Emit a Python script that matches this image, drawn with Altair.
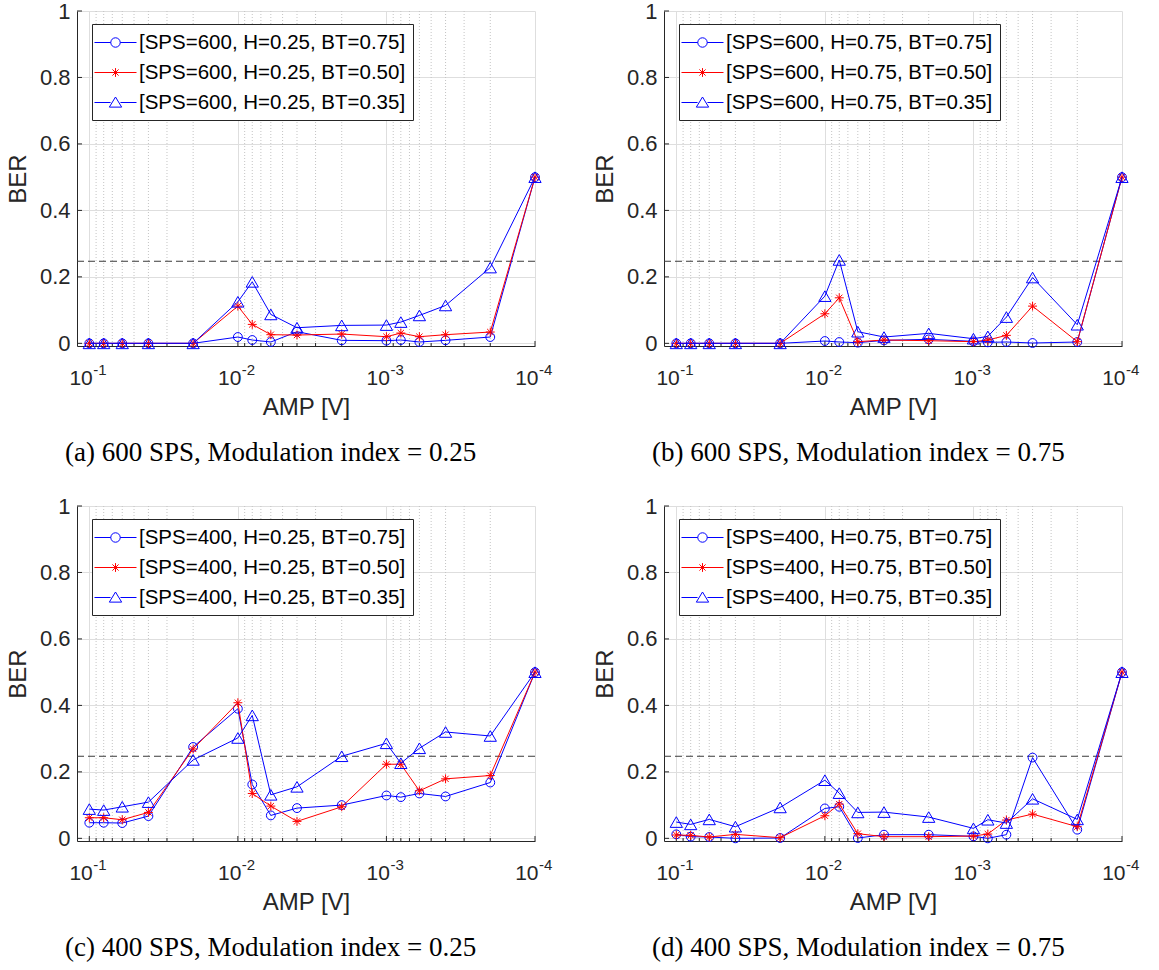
import altair as alt
import pandas as pd

# ---------------- data ----------------
amp = [0.1, 0.08, 0.06, 0.04, 0.02, 0.01, 0.008, 0.006, 0.004, 0.002,
       0.001, 0.0008, 0.0006, 0.0004, 0.0002, 0.0001]

a_bt075 = [0, 0, 0, 0, 0, 0.019, 0.010, 0.004, 0.035, 0.009, 0.008, 0.010, 0.004, 0.009, 0.019, 0.5]
a_bt050 = [0, 0, 0, 0, 0, 0.112, 0.057, 0.026, 0.025, 0.028, 0.020, 0.031, 0.020, 0.026, 0.034, 0.5]
a_bt035 = [0, 0, 0, 0, 0, 0.125, 0.185, 0.087, 0.047, 0.054, 0.055, 0.064, 0.084, 0.114, 0.228, 0.5]

b_bt075 = [0, 0, 0, 0, 0, 0.007, 0.004, 0.002, 0.009, 0.012, 0.006, 0.003, 0.004, 0.001, 0.004, 0.5]
b_bt050 = [0, 0, 0, 0, 0, 0.089, 0.137, 0.005, 0.010, 0.008, 0.005, 0.010, 0.024, 0.112, 0.005, 0.5]
b_bt035 = [0, 0, 0, 0, 0, 0.142, 0.251, 0.035, 0.019, 0.030, 0.014, 0.021, 0.079, 0.198, 0.056, 0.5]

c_bt075 = [0.047, 0.047, 0.046, 0.067, 0.275, 0.390, 0.162, 0.069, 0.091, 0.100, 0.129, 0.124, 0.135, 0.126, 0.168, 0.5]
c_bt050 = [0.062, 0.062, 0.056, 0.078, 0.269, 0.408, 0.135, 0.097, 0.051, 0.095, 0.223, 0.223, 0.143, 0.179, 0.189, 0.5]
c_bt035 = [0.088, 0.085, 0.095, 0.109, 0.236, 0.302, 0.370, 0.131, 0.155, 0.247, 0.286, 0.226, 0.271, 0.320, 0.308, 0.5]

d_bt075 = [0.012, 0.005, 0.004, 0.0, 0.001, 0.090, 0.095, 0.001, 0.011, 0.011, 0.006, 0.0, 0.011, 0.243, 0.026, 0.5]
d_bt050 = [0.010, 0.009, 0.004, 0.012, 0.002, 0.068, 0.103, 0.014, 0.005, 0.005, 0.007, 0.013, 0.055, 0.073, 0.035, 0.5]
d_bt035 = [0.049, 0.042, 0.057, 0.035, 0.093, 0.175, 0.136, 0.078, 0.079, 0.064, 0.030, 0.056, 0.046, 0.119, 0.057, 0.5]

threshold = [0.247]

panels = [
    ("600", "0.25", "(a) 600 SPS, Modulation index = 0.25", [a_bt075, a_bt050, a_bt035]),
    ("600", "0.75", "(b) 600 SPS, Modulation index = 0.75", [b_bt075, b_bt050, b_bt035]),
    ("400", "0.25", "(c) 400 SPS, Modulation index = 0.25", [c_bt075, c_bt050, c_bt035]),
    ("400", "0.75", "(d) 400 SPS, Modulation index = 0.75", [d_bt075, d_bt050, d_bt035]),
]
bts = ["0.75", "0.50", "0.35"]

major_x = [0.1, 0.01, 0.001, 0.0001]
exponents = ["-1", "-2", "-3", "-4"]
minor_x = [0.09, 0.08, 0.07, 0.06, 0.05, 0.04, 0.03, 0.02,
           0.009, 0.008, 0.007, 0.006, 0.005, 0.004, 0.003, 0.002,
           0.0009, 0.0008, 0.0007, 0.0006, 0.0005, 0.0004, 0.0003, 0.0002]
y_ticks = [0, 0.2, 0.4, 0.6, 0.8, 1.0]

# ---------------- styling ----------------
W, H = 458, 335
BLUE, RED = "#0000ff", "#ff0000"
AXC = "#262626"
SANS = "Liberation Sans"
colors = [BLUE, RED, BLUE]
ASTER = "M0,-1L0,1M-1,0L1,0M-0.7,-0.7L0.7,0.7M-0.7,0.7L0.7,-0.7"
shapes = ["circle", ASTER, "triangle-up"]
sizes = [78, 80, 150]
leg_paths = [
    "M-1.91,0L-0.43,0M0.43,0L1.91,0M-0.43,0A0.43,0.43 0 1,0 0.43,0A0.43,0.43 0 1,0 -0.43,0",
    "M-1.91,0L1.91,0M0,-0.4L0,0.4M-0.28,-0.28L0.28,0.28M-0.28,0.28L0.28,-0.28",
    "M-1.91,0L-0.45,0M0.45,0L1.91,0M0,-0.5L-0.56,0.42L0.56,0.42Z",
]

xscale = alt.Scale(type="log", domain=[0.0001, 0.121], reverse=True, nice=False)
yscale = alt.Scale(domain=[-0.008, 1], nice=False, zero=False)


def panel(sps, h, caption, series):
    labels = [f"[SPS={sps}, H={h}, BT={bt}]" for bt in bts]
    layers = []

    # minor dotted grid (also defines the x axis)
    layers.append(
        alt.Chart(pd.DataFrame({"m": minor_x})).mark_rule(
            color="#c4c4c4", strokeWidth=1, strokeDash=[1, 2]
        ).encode(
            x=alt.X("m:Q", scale=xscale, axis=alt.Axis(
                values=major_x, labelExpr="'10'", title="AMP [V]", grid=True,
                gridColor="#dedede", ticks=False, labelPadding=21, labelAlign="right",
                labelOffset=3, labelFontSize=21, titleFontSize=24, titlePadding=7,
                labelFlush=False, labelOverlap=False)),
            y=alt.value(0), y2=alt.value(H),
        )
    )
    # threshold line (also defines y axis + horizontal grid)
    layers.append(
        alt.Chart(pd.DataFrame({"t": threshold})).mark_rule(
            color="#3a3a3a", strokeWidth=1, strokeDash=[7, 4]
        ).encode(
            y=alt.Y("t:Q", scale=yscale, axis=alt.Axis(
                values=y_ticks, title="BER", grid=True, gridColor="#dedede",
                ticks=False, labelPadding=7, labelFontSize=22, titleFontSize=24,
                titlePadding=9, format="~g")),
            x=alt.value(0), x2=alt.value(W),
        )
    )
    # inward ticks (x major, x minor, y)
    layers.append(
        alt.Chart(pd.DataFrame({"m": major_x})).mark_rule(color=AXC, strokeWidth=1).encode(
            x=alt.X("m:Q", scale=xscale), y=alt.value(H), y2=alt.value(H - 5))
    )
    layers.append(
        alt.Chart(pd.DataFrame({"m": minor_x})).mark_rule(color=AXC, strokeWidth=1).encode(
            x=alt.X("m:Q", scale=xscale), y=alt.value(H), y2=alt.value(H - 3))
    )
    layers.append(
        alt.Chart(pd.DataFrame({"v": y_ticks})).mark_rule(color=AXC, strokeWidth=1).encode(
            y=alt.Y("v:Q", scale=yscale), x=alt.value(0), x2=alt.value(5))
    )
    # exponent labels for 10^k
    layers.append(
        alt.Chart(pd.DataFrame({"m": major_x, "e": exponents})).mark_text(
            align="left", baseline="top", fontSize=15, font=SANS, color=AXC, dx=4
        ).encode(x=alt.X("m:Q", scale=xscale), y=alt.value(H + 17), text="e:N")
    )
    # data series
    for vals, col, shp, sz in zip(series, colors, shapes, sizes):
        df = pd.DataFrame({"amp": amp, "ber": vals})
        base = alt.Chart(df).encode(
            x=alt.X("amp:Q", scale=xscale), y=alt.Y("ber:Q", scale=yscale))
        layers.append(base.mark_line(color=col, strokeWidth=1))
        layers.append(base.mark_point(shape=shp, size=sz, color=col, filled=False,
                                      strokeWidth=1, opacity=1))
    # legend-only layer
    leg = alt.Legend(
        title=None, orient="none", legendX=15, legendY=13,
        symbolSize=484, symbolStrokeWidth=1, symbolOpacity=1,
        symbolOffset=5, labelOffset=12, labelFont=SANS, labelFontSize=20.5,
        labelColor="black", labelLimit=500, padding=7, rowPadding=8,
        fillColor="white", strokeColor=AXC, symbolFillColor="transparent",
    )
    layers.append(
        alt.Chart(pd.DataFrame({"label": labels})).mark_point(
            filled=False, opacity=0, strokeWidth=1
        ).encode(
            x=alt.value(0), y=alt.value(0),
            color=alt.Color("label:N", scale=alt.Scale(domain=labels, range=colors), legend=leg),
            shape=alt.Shape("label:N", scale=alt.Scale(domain=labels, range=leg_paths), legend=leg),
        )
    )
    return alt.layer(*layers).properties(
        width=W, height=H,
        title=alt.TitleParams(caption, orient="bottom", anchor="start", frame="group",
                              font="Liberation Serif", fontSize=27, fontWeight="normal",
                              color="black", baseline="top", offset=21, dx=-12),
    )


charts = [panel(*p) for p in panels]
row1 = alt.hconcat(charts[0], charts[1], spacing=40).resolve_scale(color="independent", shape="independent")
row2 = alt.hconcat(charts[2], charts[3], spacing=40).resolve_scale(color="independent", shape="independent")
chart = alt.vconcat(row1, row2, spacing=29).resolve_scale(
    color="independent", shape="independent"
).configure(
    padding={"left": 6, "top": 0, "right": 5, "bottom": 5},
    font=SANS,
).configure_view(stroke=None).configure_axis(
    labelFont=SANS, titleFont=SANS, labelColor=AXC, titleColor=AXC,
    domainColor=AXC, domainWidth=1, titleFontWeight="normal",
)

chart.save("out.html", embed_options={"renderer": "svg", "actions": False})
